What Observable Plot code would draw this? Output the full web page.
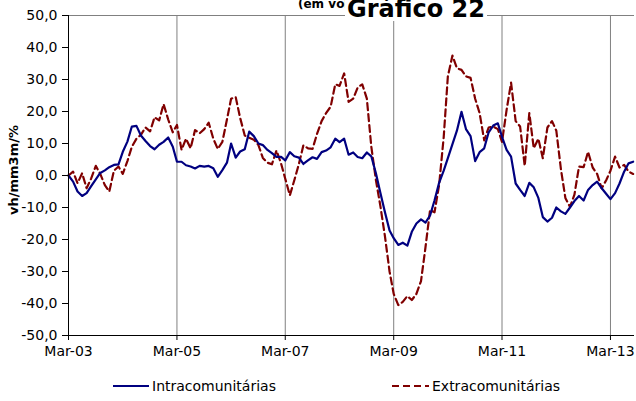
<!DOCTYPE html>
<html><head><meta charset="utf-8">
<script src="https://cdn.jsdelivr.net/npm/d3@7"></script>
<script src="https://cdn.jsdelivr.net/npm/@observablehq/plot@0.6"></script>
<style>
body{margin:0;background:#fff;font-family:"DejaVu Sans",sans-serif;color:#000;}
#wrap{position:relative;width:636px;height:401px;overflow:hidden;background:#fff;}
#chart{position:absolute;left:0;top:0;}
.sub{position:absolute;left:298px;top:-2px;font:bold 12px "DejaVu Sans";line-height:12px;white-space:nowrap;}
.title{position:absolute;left:345px;top:-3px;font:bold 24px "DejaVu Sans";line-height:24px;white-space:nowrap;background:#fff;padding:0 2px;}
.ylab{position:absolute;left:13px;top:170px;transform:translate(-50%,-50%) rotate(-90deg);font:bold 13px "DejaVu Sans";white-space:nowrap;}
.leg{position:absolute;top:377px;height:18px;display:flex;align-items:center;font:14px "DejaVu Sans";white-space:nowrap;}
.leg svg{margin-right:3px;}
</style></head><body>
<div id="wrap">
  <div id="chart"></div>
  <div class="sub">(em volume)</div>
  <div class="title">Gráfico 22</div>
  <div class="ylab">vh/mm3m/%</div>
  <div class="leg" style="left:113px"><svg width="36" height="4"><line x1="0" x2="36" y1="2" y2="2" stroke="#000080" stroke-width="2.2"/></svg>Intracomunitárias</div>
  <div class="leg" style="left:392px"><svg width="37" height="4"><line x1="0" x2="37" y1="2" y2="2" stroke="#800000" stroke-width="2.2" stroke-dasharray="7,4"/></svg>Extracomunitárias</div>
</div>
<script>
const seriesNames = ["Intracomunitárias", "Extracomunitárias"];
const months = d3.utcMonth.range(new Date(Date.UTC(2003, 2, 1)), new Date(Date.UTC(2013, 8, 1)));
const xEnd = new Date(Date.UTC(2013, 7, 10));
const tickDates = [2003, 2005, 2007, 2009, 2011, 2013].map(y => new Date(Date.UTC(y, 2, 1)));
const yTicks = [-50, -40, -30, -20, -10, 0, 10, 20, 30, 40, 50];

const intra = [
  0, -1.9, -5, -6.4, -5.5, -3.3, -1.2, 0.8, 1.6, 2.6, 3.3, 3.5,
  7.4, 10.6, 15.3, 15.5, 12.5, 10.8, 9.2, 8.2, 9.6, 10.5, 11.9, 9,
  4.3, 4.3, 3.2, 2.8, 2.2, 3, 2.8, 3, 2.3, -0.4, 1.7, 4,
  10, 5.6, 7.5, 8.2, 13.7, 12.3, 10, 9.5, 8, 7, 5.8, 5.8,
  4.7, 7.3, 6, 5.6, 3.6, 4.7, 5.7, 5.2, 7.3, 7.8, 8.8, 11.5,
  10.4, 11.5, 6.5, 7.2, 5.8, 5.4, 7.2, 6, 0.7, -5.4, -11.5, -17.2,
  -19.6, -21.7, -21, -21.9, -17.6, -15, -13.7, -14.7, -12.5, -7.8, -2.3, 1.5,
  5.4, 9.8, 14, 19.9, 14.5, 12.3, 4.5, 7.3, 8.5, 13.5, 15.6, 16.3,
  12.1, 8, 5.9, -2.5, -4.5, -6.4, -2.3, -3.7, -7, -13, -14.4, -13.2,
  -10, -11.2, -12, -10, -8, -6.4, -7.8, -4.5, -3, -1.9, -4, -5.8,
  -7.4, -5.5, -2.5, 1.2, 3.8, 4.3
];
const extra = [
  0, 1.2, -2.4, 0.7, -4, -0.9, 3, 0.5, -3, -5, 1.5, 2.8,
  0.5, 4.5, 9, 11.5, 12.7, 15, 13.8, 18.2, 17.2, 22.3, 17.5, 13.5,
  15.8, 8, 11.5, 8.5, 14.2, 13.2, 14.5, 16.5, 11.5, 8.3, 10.5, 17.5,
  24, 24.5, 18, 12.5, 11.8, 11.2, 9.5, 5.5, 4, 3.5, 7.8, 3.7,
  -1, -6.2, -1.5, 3.6, 9.4, 8.5, 8.3, 13, 17, 19.5, 21.5, 28.5,
  28, 31.9, 23, 24, 27.5, 28.5, 24, 9, -1.4, -9.5, -19, -30,
  -37, -40.5, -39.5, -37.7, -38.9, -37, -33, -22.5, -10.8, -11.5, -3, 12,
  31, 37.5, 33.5, 33, 31, 30.5, 24, 19.5, 11, 15, 15.3, 14.5,
  10.5, 20.5, 29, 17, 15.3, 3, 19.5, 8.5, 11.5, 5.4, 15, 17,
  14, 2, -7, -9.8, -6, 2.8, 2.6, 7.4, 2.5, 0.5, -4, -1.4,
  1.5, 5.9, 2.5, 3.3, 1.2, 0.5
];

const data = months.map((date, i) => ({date, intra: intra[i], extra: extra[i]}));
const fmtY = d => d.toFixed(1).replace(".", ",");
const fmtX = d3.utcFormat("%b-%y");

const plot = Plot.plot({
  width: 636,
  height: 370,
  marginTop: 15,
  marginBottom: 35,
  marginLeft: 68,
  marginRight: 2,
  style: {fontFamily: "DejaVu Sans", fontSize: "14px", color: "#000", background: "transparent", overflow: "visible"},
  x: {type: "utc", domain: [months[0], xEnd]},
  y: {domain: [-50, 50]},
  marks: [
    Plot.ruleX(tickDates, {stroke: "#808080", strokeWidth: 1}),
    Plot.ruleY([50], {stroke: "#808080", strokeWidth: 1}),
    Plot.lineY(data, {x: "date", y: "extra", stroke: "#800000", strokeWidth: 2.2, strokeDasharray: "7,4"}),
    Plot.lineY(data, {x: "date", y: "intra", stroke: "#000080", strokeWidth: 2.2}),
    Plot.ruleY([-50], {stroke: "#000", strokeWidth: 1}),
    Plot.ruleX([months[0]], {stroke: "#000", strokeWidth: 1}),
    Plot.axisX({ticks: tickDates, tickFormat: fmtX, tickSize: 5, tickPadding: 6, label: null, fontSize: 14}),
    Plot.axisY({ticks: yTicks, tickFormat: fmtY, tickSize: 6, tickPadding: 5, label: null, fontSize: 14})
  ]
});
document.getElementById("chart").appendChild(plot);
</script>
</body></html>
